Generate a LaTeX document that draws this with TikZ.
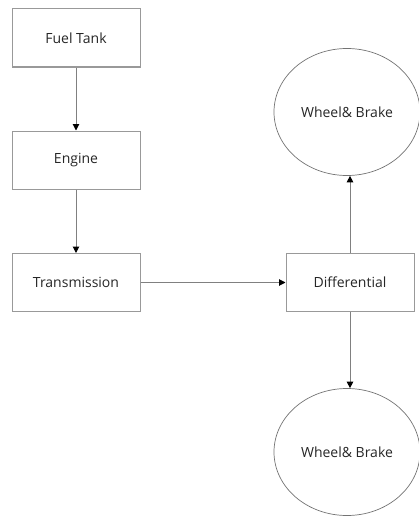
\documentclass[tikz,border=0pt]{standalone}
\usepackage{fontspec}
\setmainfont{Open Sans}
\usetikzlibrary{shapes.geometric,arrows.meta}
\begin{document}
\begin{tikzpicture}[x=1pt, y=-1pt,
        part/.style={draw=black!40, line width=1pt, minimum width=128pt, minimum height=58pt, inner sep=0pt, text=black!85, font=\fontsize{14}{17}\selectfont},
        wheel/.style={ellipse, draw=black!55, line width=0.7pt, minimum width=146pt, minimum height=127pt, inner sep=0pt, text=black!85, font=\fontsize{14}{17}\selectfont},
        flow/.style={draw=black!50, line width=1pt, -{Triangle[length=6.5pt, width=6.5pt, fill=black, color=black]}}]
    \useasboundingbox (0, 0) rectangle (419, 519);
    \node[part] (FT) at (76, 38) {Fuel Tank};
    \node[part] (EN) at (76, 160) {Engine};
    \node[part] (TR) at (76, 282.5) {Transmission};
    \node[part] (DF) at (350, 282.5) {Differential};
    \node[wheel] (WT) at (347, 112) {Wheel\& Brake};
    \node[wheel] (WB) at (347, 452) {Wheel\& Brake};

    \draw[flow] (FT) -- (EN);
    \draw[flow] (EN) -- (TR);
    \draw[flow] (TR) -- (DF);
    \draw[flow] (DF.north) -- (DF.north |- WT.south);
    \draw[flow] (DF.south) -- (DF.south |- WB.north);
\end{tikzpicture}
\end{document}
